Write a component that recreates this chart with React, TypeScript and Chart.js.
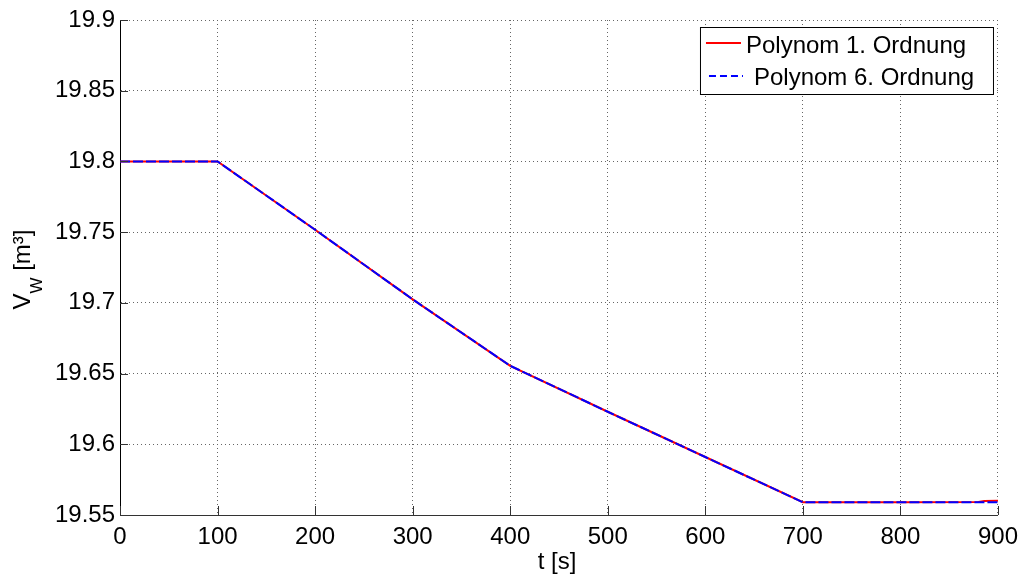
import { useEffect, useRef } from 'react';
import { Chart, registerables } from 'chart.js';

Chart.register(...registerables);

// ---- data ----
const timesPoly1 = [0, 100, 200, 300, 400, 500, 600, 700, 800, 880, 886, 900];
const valuesPoly1 = [19.8, 19.8, 19.7517, 19.7025, 19.6555, 19.623, 19.591, 19.559, 19.559, 19.5592, 19.5599, 19.56];
const timesPoly6 = [0, 100, 200, 300, 400, 500, 600, 700, 800, 900];
const valuesPoly6 = [19.8, 19.8, 19.7517, 19.7025, 19.6555, 19.623, 19.591, 19.559, 19.559, 19.5591];
const seriesLabels = ['Polynom 1. Ordnung', 'Polynom 6. Ordnung'];
const xTickValues = [0, 100, 200, 300, 400, 500, 600, 700, 800, 900];
const xTickLabels = ['0', '100', '200', '300', '400', '500', '600', '700', '800', '900'];
const yTickValues = [19.55, 19.6, 19.65, 19.7, 19.75, 19.8, 19.85, 19.9];
const yTickLabels = ['19.55', '19.6', '19.65', '19.7', '19.75', '19.8', '19.85', '19.9'];
const xTitle = 't [s]';
const yTitleMain = 'V';
const yTitleSub = 'W';
const yTitleRest = ' [m³]';

const FAMILY = '"Liberation Sans", Arial, Helvetica, sans-serif';

const decorPlugin = {
  id: 'decor',
  afterDraw(chart: any) {
    const { ctx, chartArea } = chart;
    const { left, right, top, bottom } = chartArea;
    const xs = chart.scales.x;
    const ys = chart.scales.y;
    ctx.save();

    // inward tick marks
    ctx.strokeStyle = '#333';
    ctx.lineWidth = 1;
    ctx.setLineDash([]);
    ctx.beginPath();
    xTickValues.forEach((v) => {
      const px = Math.round(xs.getPixelForValue(v)) + 0.5;
      ctx.moveTo(px, bottom);
      ctx.lineTo(px, bottom - 9);
    });
    yTickValues.forEach((v) => {
      const py = Math.round(ys.getPixelForValue(v)) + 0.5;
      ctx.moveTo(left, py);
      ctx.lineTo(left + 8, py);
    });
    ctx.stroke();

    // x title
    ctx.fillStyle = '#000';
    ctx.font = `24px ${FAMILY}`;
    ctx.textAlign = 'center';
    ctx.textBaseline = 'alphabetic';
    ctx.fillText(xTitle, (left + right) / 2 - 2, 569);

    // y title with subscript
    ctx.save();
    ctx.translate(30, (top + bottom) / 2 + 2);
    ctx.rotate(-Math.PI / 2);
    ctx.textAlign = 'left';
    const mainFont = `24px ${FAMILY}`;
    const subFont = `17px ${FAMILY}`;
    ctx.font = mainFont;
    const w1 = ctx.measureText(yTitleMain).width;
    const w3 = ctx.measureText(yTitleRest).width;
    ctx.font = subFont;
    const w2 = ctx.measureText(yTitleSub).width;
    const start = -(w1 + w2 + w3) / 2;
    ctx.font = mainFont;
    ctx.fillText(yTitleMain, start, 0);
    ctx.font = subFont;
    ctx.fillText(yTitleSub, start + w1, 12);
    ctx.font = mainFont;
    ctx.fillText(yTitleRest, start + w1 + w2, 0);
    ctx.restore();

    // legend box
    const bx = right - 298;
    const by = top + 7;
    const bw = 293;
    const bh = 67;
    ctx.fillStyle = '#fff';
    ctx.fillRect(bx, by, bw, bh);
    ctx.strokeStyle = '#000';
    ctx.lineWidth = 1;
    ctx.strokeRect(bx + 0.5, by + 0.5, bw, bh);

    // entry 1
    ctx.strokeStyle = '#ff0000';
    ctx.lineWidth = 2;
    ctx.beginPath();
    ctx.moveTo(bx + 6, by + 16);
    ctx.lineTo(bx + 41, by + 16);
    ctx.stroke();
    // entry 2
    ctx.strokeStyle = '#0000ff';
    ctx.setLineDash([7, 4]);
    ctx.beginPath();
    ctx.moveTo(bx + 9, by + 49);
    ctx.lineTo(bx + 43, by + 49);
    ctx.stroke();
    ctx.setLineDash([]);

    ctx.fillStyle = '#000';
    ctx.font = `24px ${FAMILY}`;
    ctx.textAlign = 'left';
    ctx.textBaseline = 'alphabetic';
    ctx.fillText(seriesLabels[0], bx + 46, by + 26);
    ctx.fillText(seriesLabels[1], bx + 54, by + 58);

    ctx.restore();
  },
};

export default function App() {
  const canvasRef = useRef<HTMLCanvasElement>(null);

  useEffect(() => {
    document.body.style.margin = '0';
    document.body.style.background = '#fff';
    const canvas = canvasRef.current;
    if (!canvas) return;
    const tickFont = { family: FAMILY, size: 24 };
    const chart = new Chart(canvas, {
      type: 'line',
      data: {
        datasets: [
          {
            label: seriesLabels[0],
            data: timesPoly1.map((t, i) => ({ x: t, y: valuesPoly1[i] })),
            borderColor: '#ff0000',
            borderWidth: 2,
            pointRadius: 0,
            tension: 0,
            fill: false,
            order: 1,
          },
          {
            label: seriesLabels[1],
            data: timesPoly6.map((t, i) => ({ x: t, y: valuesPoly6[i] })),
            borderColor: '#0000ff',
            borderWidth: 2,
            borderDash: [10, 3],
            pointRadius: 0,
            tension: 0,
            fill: false,
            order: 0,
          },
        ],
      },
      options: {
        responsive: false,
        animation: false,
        devicePixelRatio: 1,
        layout: { padding: { top: 20, right: 26, left: 0, bottom: 0 } },
        plugins: {
          legend: { display: false },
          tooltip: { enabled: false },
        },
        scales: {
          x: {
            type: 'linear',
            min: 0,
            max: 900,
            afterBuildTicks: (s: any) => {
              s.ticks = xTickValues.map((value) => ({ value }));
            },
            afterFit: (s: any) => {
              s.height = 61;
            },
            ticks: {
              callback: (_v: any, i: number) => xTickLabels[i],
              font: tickFont,
              color: '#000',
              padding: 8,
              maxRotation: 0,
              autoSkip: false,
            },
            grid: { color: '#666', lineWidth: 1, drawTicks: false },
            border: { display: true, color: '#333', width: 1, dash: [1, 3] },
          },
          y: {
            type: 'linear',
            min: 19.55,
            max: 19.9,
            afterBuildTicks: (s: any) => {
              s.ticks = yTickValues.map((value) => ({ value }));
            },
            afterFit: (s: any) => {
              s.width = 120;
            },
            ticks: {
              callback: (_v: any, i: number) => yTickLabels[i],
              font: tickFont,
              color: '#000',
              padding: 5,
              autoSkip: false,
            },
            grid: { color: '#666', lineWidth: 1, drawTicks: false },
            border: { display: true, color: '#000', width: 1, dash: [1, 3] },
          },
        },
      },
      plugins: [decorPlugin],
    } as any);
    return () => chart.destroy();
  }, []);

  return (
    <div style={{ width: 1026, height: 576, background: '#fff' }}>
      <canvas ref={canvasRef} width={1026} height={576} style={{ display: 'block' }} />
    </div>
  );
}
